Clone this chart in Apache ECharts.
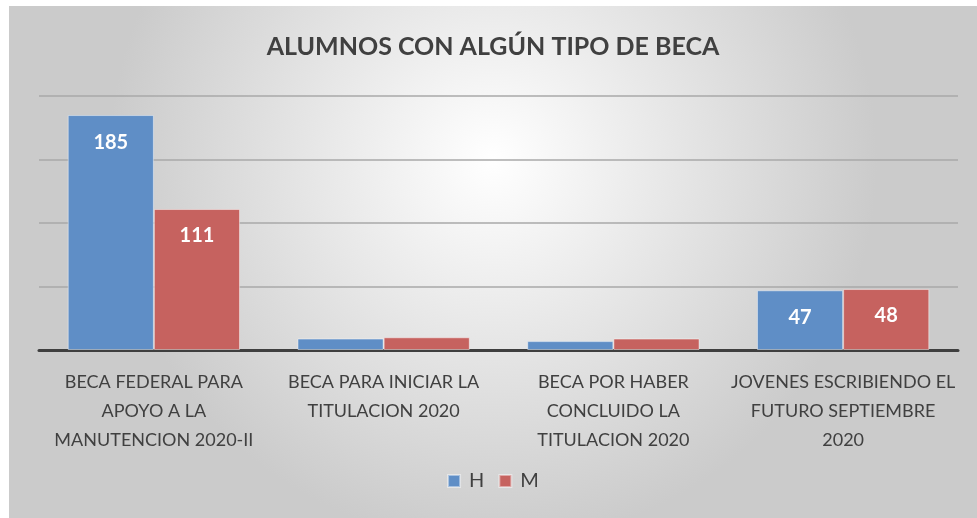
<!DOCTYPE html>
<html>
<head>
<meta charset="utf-8">
<script src="https://cdn.jsdelivr.net/npm/echarts@6/dist/echarts.min.js"></script>
<style>
  html, body { margin: 0; padding: 0; background: #fff; }
  #becas {
    position: absolute;
    left: 9px;
    top: 6px;
    width: 968px;
    height: 512px;
  }
</style>
</head>
<body>
<div id="becas"></div>
<script>
// datos de la gráfica
const categorias = [
  "BECA FEDERAL PARA\nAPOYO A LA\nMANUTENCION 2020-II",
  "BECA PARA INICIAR LA\nTITULACION 2020",
  "BECA POR HABER\nCONCLUIDO LA\nTITULACION 2020",
  "JOVENES ESCRIBIENDO EL\nFUTURO SEPTIEMBRE\n2020",
];
const hombres = [185, 9, 7, 47];
const mujeres = [111, 10, 9, 48];
const yMin = 0;
const yMax = 200;
const yInterval = 50;

// etiquetas solo en las barras grandes, como en el original
const conEtiqueta = (valores) =>
  valores.map((v) => ({ value: v, label: { show: v >= 20 } }));

const chart = echarts.init(document.getElementById("becas"));

const option = {
  backgroundColor: new echarts.graphic.RadialGradient(0.5, 0.3, 0.75, [
    { offset: 0, color: "#ffffff" },
    { offset: 1, color: "#cbcbcb" },
  ]),
  title: {
    text: "ALUMNOS CON ALGÚN TIPO DE BECA",
    left: "center",
    top: 23,
    textStyle: {
      fontFamily: "Lato",
      fontWeight: "bold",
      fontSize: 25,
      color: "#404040",
    },
  },
  legend: {
    data: ["H", "M"],
    bottom: 22,
    left: "center",
    icon: "rect",
    itemWidth: 12,
    itemHeight: 12,
    itemGap: 14,
    textStyle: {
      fontFamily: "Lato",
      fontSize: 20,
      color: "#404040",
      padding: [0, 0, 0, 4],
    },
  },
  grid: {
    left: 30,
    right: 19,
    top: 90,
    bottom: 168,
  },
  xAxis: {
    type: "category",
    data: categorias,
    axisTick: { show: false },
    axisLine: {
      lineStyle: { color: "#3f3f3f", width: 3 },
    },
    axisLabel: {
      interval: 0,
      margin: 18,
      lineHeight: 29,
      fontFamily: "Lato",
      fontSize: 18,
      color: "#404040",
    },
  },
  yAxis: {
    type: "value",
    min: yMin,
    max: yMax,
    interval: yInterval,
    axisLabel: { show: false },
    axisLine: { show: false },
    axisTick: { show: false },
    splitLine: {
      lineStyle: { color: "#a9a9a9", width: 1.5 },
    },
  },
  series: [
    {
      name: "H",
      type: "bar",
      data: conEtiqueta(hombres),
      barGap: "0%",
      barCategoryGap: "25%",
      itemStyle: {
        color: "#5f8ec6",
        borderColor: "rgba(255,255,255,0.45)",
        borderWidth: 1,
      },
      label: {
        position: "insideTop",
        distance: 17,
        color: "#fff",
        fontFamily: "Lato",
        fontWeight: "bold",
        fontSize: 20,
      },
    },
    {
      name: "M",
      type: "bar",
      data: conEtiqueta(mujeres),
      itemStyle: {
        color: "#c6625f",
        borderColor: "rgba(255,255,255,0.45)",
        borderWidth: 1,
      },
      label: {
        position: "insideTop",
        distance: 17,
        color: "#fff",
        fontFamily: "Lato",
        fontWeight: "bold",
        fontSize: 20,
      },
    },
  ],
};

chart.setOption(option);
window.addEventListener("resize", () => chart.resize());
</script>
</body>
</html>
